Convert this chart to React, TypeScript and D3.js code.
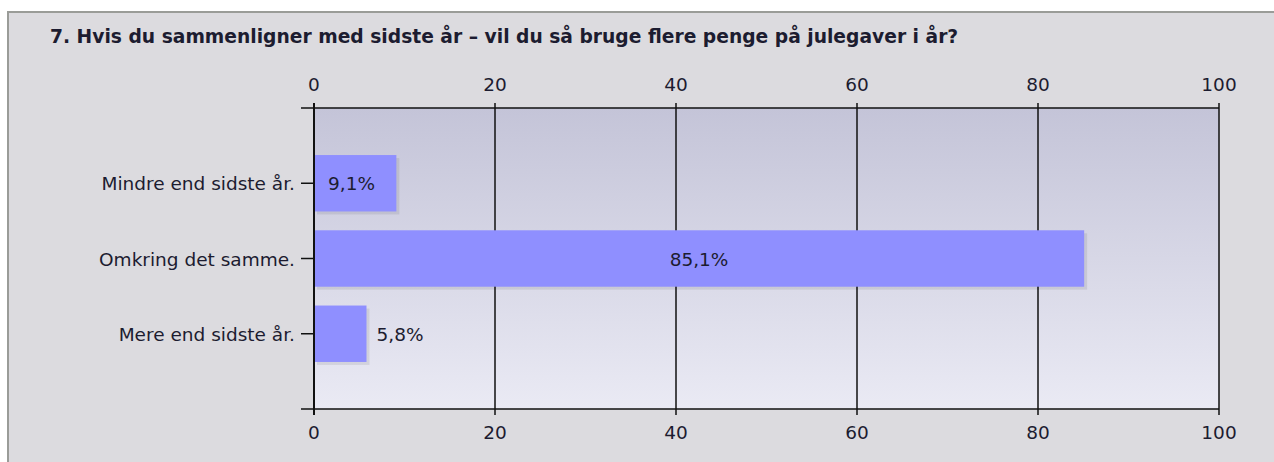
import React, { useRef, useEffect } from 'react'
import * as d3 from 'd3'

const title = '7. Hvis du sammenligner med sidste år – vil du så bruge flere penge på julegaver i år?'
const categories = ['Mindre end sidste år.', 'Omkring det samme.', 'Mere end sidste år.']
const values = [9.1, 85.1, 5.8]
const ticks = [0, 20, 40, 60, 80, 100]

const W = 1274
const H = 462

const App = () => {
  const svgRef = useRef<SVGSVGElement>(null)

  useEffect(() => {
    const svg = d3.select(svgRef.current)
    svg.selectAll('*').remove()

    const font = 'Verdana, "DejaVu Sans", sans-serif'
    const plot = { left: 314, right: 1219, top: 108, bottom: 409 }

    // background frame
    svg.append('rect').attr('width', W).attr('height', H).attr('fill', '#ffffff')
    svg.append('rect')
      .attr('x', 8).attr('y', 12).attr('width', W).attr('height', H)
      .attr('fill', '#dcdbdf').attr('stroke', '#9a9c98').attr('stroke-width', 2)

    svg.append('text')
      .attr('x', 50).attr('y', 43)
      .attr('font-family', font).attr('font-size', 18.7).attr('font-weight', 'bold')
      .attr('fill', '#1c1c30')
      .text(title)

    const defs = svg.append('defs')
    const grad = defs.append('linearGradient').attr('id', 'bg').attr('x1', 0).attr('x2', 0).attr('y1', 0).attr('y2', 1)
    grad.append('stop').attr('offset', '0%').attr('stop-color', '#c4c4d8')
    grad.append('stop').attr('offset', '100%').attr('stop-color', '#eaeaf4')

    const x = d3.scaleLinear().domain([0, 100]).range([plot.left, plot.right])
    const y = d3.scaleBand<string>().domain(categories)
      .range([plot.top, plot.bottom]).paddingInner(0.25).paddingOuter(0.625)

    svg.append('rect')
      .attr('x', plot.left).attr('y', plot.top)
      .attr('width', plot.right - plot.left).attr('height', plot.bottom - plot.top)
      .attr('fill', 'url(#bg)')

    // grid + ticks
    const g = svg.append('g').attr('stroke', '#111').attr('stroke-width', 1.5)
    g.selectAll('line.grid').data(ticks).enter().append('line')
      .attr('x1', d => x(d)).attr('x2', d => x(d))
      .attr('y1', plot.top - 5).attr('y2', plot.bottom + 6)

    const rows = svg.append('g')
    // shadows
    rows.selectAll('rect.shadow').data(values).enter().append('rect')
      .attr('x', plot.left + 3)
      .attr('y', (d, i) => (y(categories[i]) as number) + 3)
      .attr('width', d => x(d) - plot.left)
      .attr('height', y.bandwidth())
      .attr('fill', '#000').attr('opacity', 0.08)
    rows.selectAll('rect.bar').data(values).enter().append('rect')
      .attr('x', plot.left)
      .attr('y', (d, i) => y(categories[i]) as number)
      .attr('width', d => x(d) - plot.left)
      .attr('height', y.bandwidth())
      .attr('fill', '#8f8fff')

    // borders
    const b = svg.append('g').attr('stroke', '#111')
    b.append('line').attr('x1', plot.left - 13).attr('x2', plot.right).attr('y1', plot.top).attr('y2', plot.top).attr('stroke-width', 1.5)
    b.append('line').attr('x1', plot.left - 13).attr('x2', plot.right).attr('y1', plot.bottom).attr('y2', plot.bottom).attr('stroke-width', 1.5)
    b.append('line').attr('x1', plot.left).attr('x2', plot.left).attr('y1', plot.top - 5).attr('y2', plot.bottom + 6).attr('stroke-width', 2)
    b.selectAll('line.ytick').data(categories).enter().append('line')
      .attr('x1', plot.left - 13).attr('x2', plot.left)
      .attr('y1', d => (y(d) as number) + y.bandwidth() / 2)
      .attr('y2', d => (y(d) as number) + y.bandwidth() / 2)
      .attr('stroke-width', 1.5)

    const txt = svg.append('g').attr('font-family', font).attr('font-size', 18.5).attr('fill', '#1c1c30')
    txt.selectAll('text.top').data(ticks).enter().append('text')
      .attr('x', d => x(d)).attr('y', 91).attr('text-anchor', 'middle').text(d => d)
    txt.selectAll('text.bot').data(ticks).enter().append('text')
      .attr('x', d => x(d)).attr('y', 439).attr('text-anchor', 'middle').text(d => d)
    txt.selectAll('text.cat').data(categories).enter().append('text')
      .attr('x', plot.left - 19)
      .attr('y', d => (y(d) as number) + y.bandwidth() / 2 + 7)
      .attr('text-anchor', 'end').text(d => d)

    const fmt = (v: number) => v.toFixed(1).replace('.', ',') + '%'
    txt.selectAll('text.val').data(values).enter().append('text')
      .attr('x', d => {
        const w = x(d) - plot.left
        if (w > 200) return plot.left + w / 2
        if (w > 60) return plot.left + 14
        return x(d) + 10
      })
      .attr('text-anchor', d => (x(d) - plot.left > 200 ? 'middle' : 'start'))
      .attr('y', (d, i) => (y(categories[i]) as number) + y.bandwidth() / 2 + 7)
      .text(d => fmt(d))
  }, [])

  return (
    <svg ref={svgRef} width={W} height={H} style={{ position: 'fixed', left: 0, top: 0 }} />
  )
}

export default App
